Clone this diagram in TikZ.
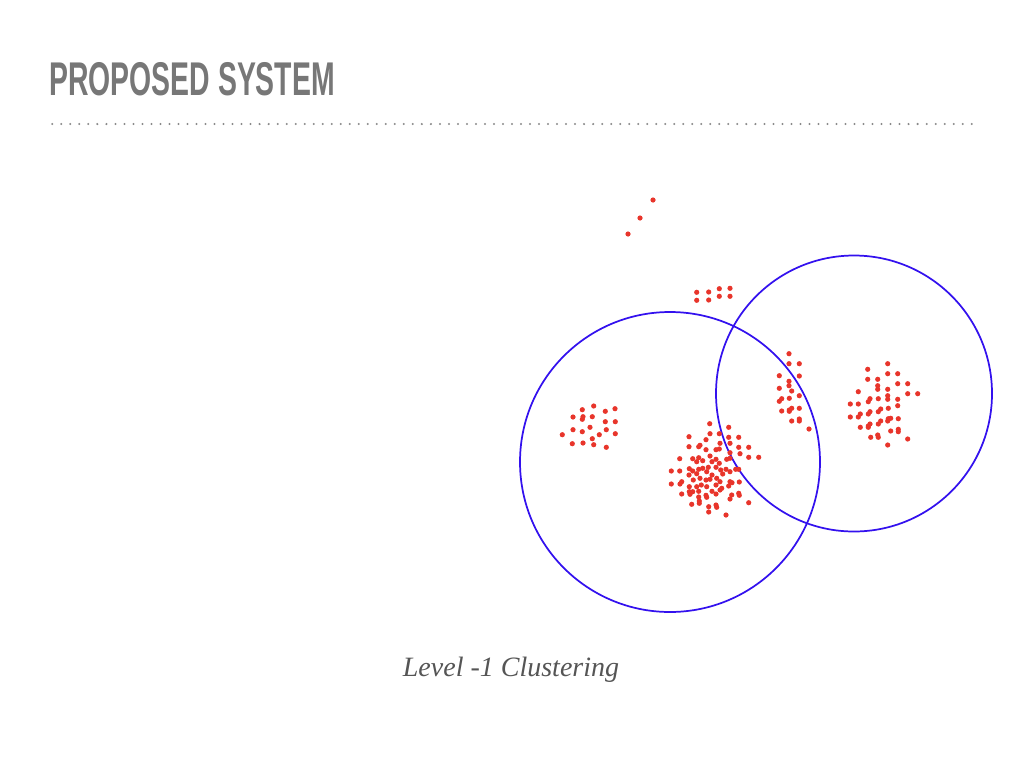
\documentclass[tikz,border=0pt]{standalone}
\usepackage{fontspec}
\setmainfont{Liberation Serif}
\newfontfamily\titlefont[FakeStretch=0.6]{Liberation Sans}
\definecolor{titlegray}{HTML}{777777}
\definecolor{rulegray}{HTML}{8A8A8A}
\definecolor{dotred}{HTML}{E8352B}
\definecolor{ringblue}{HTML}{3311EE}
\definecolor{capgray}{HTML}{555555}
\begin{document}
\begin{tikzpicture}[x=0.75pt,y=-0.75pt,
  pt/.style={fill=dotred},
  ring/.style={draw=ringblue,line width=1.3pt}]
\useasboundingbox (0,0) rectangle (1024,768);
\node[anchor=base west,inner sep=0,text=titlegray,font=\titlefont\bfseries\fontsize{35.5}{40}\selectfont] (title) at (49,95) {PROPOSED SYSTEM};
\foreach \i in {0,...,102}
  \fill[rulegray] ({52.3+\i*9.0137},124) circle[radius=0.85pt];
% circles
\draw[ring] (670,462) circle[radius=112.5pt];
\draw[ring] (854,393.5) circle[radius=103.5pt];
% dots
\foreach \p in {(653,200),(640,218),(628,234),
 (696.7,292.3),(708.7,292),(719.3,288.7),(730,288.3),(696.7,300.3),(708.7,300),(719.3,296.3),(730,296.3),
 (582.3,409.7),(593.7,406),(615,408.7),(605.3,411.3),(573,417),(583,416.7),(582.3,419.3),(592.3,416.7),(605.3,421.7),(615.3,421.7),(590,427.3),(573,429.7),(582.3,431.7),(606.3,429.7),(562.3,434.7),(599.3,434.7),(615.3,433.7),(592.3,438.7),(572.3,443.7),(583,443),(593.7,444.7),(606.3,447.3),
 (709.7,423.7),(728.7,427.3),(689,436.7),(710,433.7),(719.3,433.7),(728.7,437.3),(738.7,437.3),(706,439.7),(720,443.3),(730,443.3),(689,446.7),(698.7,446.7),(700,445.3),(706,449.7),(716,449.7),(719.3,449),(738.7,447.3),(748.7,447.3),(730,452.7),(740,453.7),(679.7,458.7),(692.7,458.7),(698.7,457.7),(710,456),(716,459.3),(726.7,459.3),(730,458.3),(748.7,457.3),(758.7,457.3),(696.7,461.7),(702.7,460.7),(712,461.7),(719.3,463.3),(689.3,468.7),(692.7,471),(698.7,469.3),(702.7,468.3),(708.3,467.3),(716,467.3),(720.7,470),(726,469.3),(730,471.7),(735.7,469.3),(738.7,469.3),(671.3,471),(679.7,471),(696.7,473.7),(706.7,471.7),(712,475),(722.7,474),(689,475),(700,478.3),(710,479.3),(716.7,478.3),(693.3,480),(706,480),(720,481.7),(730,481.7),(732,482.7),(739.3,482),(671.3,484),(680,484),(681.7,481.7),(689.3,486.7),(696.7,486.7),(701.3,485),(706.7,486.7),(716,485),(721.7,488.3),(728.7,486),(689.3,491.7),(692.7,491.7),(698.7,491.3),(712,491.3),(720,490),(681.7,494),(690,494.3),(706,495.3),(716,494),(731.7,495),(738.7,493.3),(739.3,495.3),(698.7,497),(706.7,497.3),(730,499),(691.7,504.3),(699.3,503.3),(699.3,501),(708.7,506.7),(716,505),(716.7,507.3),(748.7,502.7),(708.7,512),(726,515),
 (789,353.7),(789,363.7),(799.3,363.7),(779.3,375.7),(799.3,376),(789,381.3),(789,385.7),(791.7,391),(779.3,388.3),(799.3,395.7),(789.3,398.3),(781.7,398.7),(779.3,401.3),(791.7,408.3),(789.3,410),(799.3,408.3),(781.7,411),(789.3,411.3),(799.3,419),(799.3,421),(791.7,421),(809,429),
 (887.7,363.7),(867.7,369.3),(887.7,373.7),(897.7,373.7),(867.7,379.3),(877.7,379.3),(877.7,385.7),(887.7,389.3),(877.7,389.3),(897.7,383.7),(907.7,383.7),(858.3,391.7),(887.7,395.7),(887.7,399.3),(878.3,398.7),(870,398.7),(868.3,401.7),(907.7,393.7),(917.7,393.7),(897.7,399.3),(897.7,405.7),(850.3,404),(858.3,404),(888.3,408.3),(878.3,411.7),(880.7,409),(870,411.7),(868.3,414),(860.3,414),(850.3,417),(858.3,417),(888.3,418.7),(890.7,418.3),(898.3,418.7),(887.7,421),(880.7,421),(878.3,424),(870,424),(868.3,426),(860.3,427.3),(868.3,427.3),(890.7,431),(898.3,429.3),(898.3,431.7),(870.7,437.3),(877.7,435),(878.3,437.3),(907.7,439),(887.7,445)}
  \fill[pt] \p circle[radius=1.95pt];
\node[anchor=base,inner sep=0,text=capgray,font=\itshape\fontsize{21}{25}\selectfont] (caption) at (511,676) {Level -1 Clustering};
\end{tikzpicture}
\end{document}
